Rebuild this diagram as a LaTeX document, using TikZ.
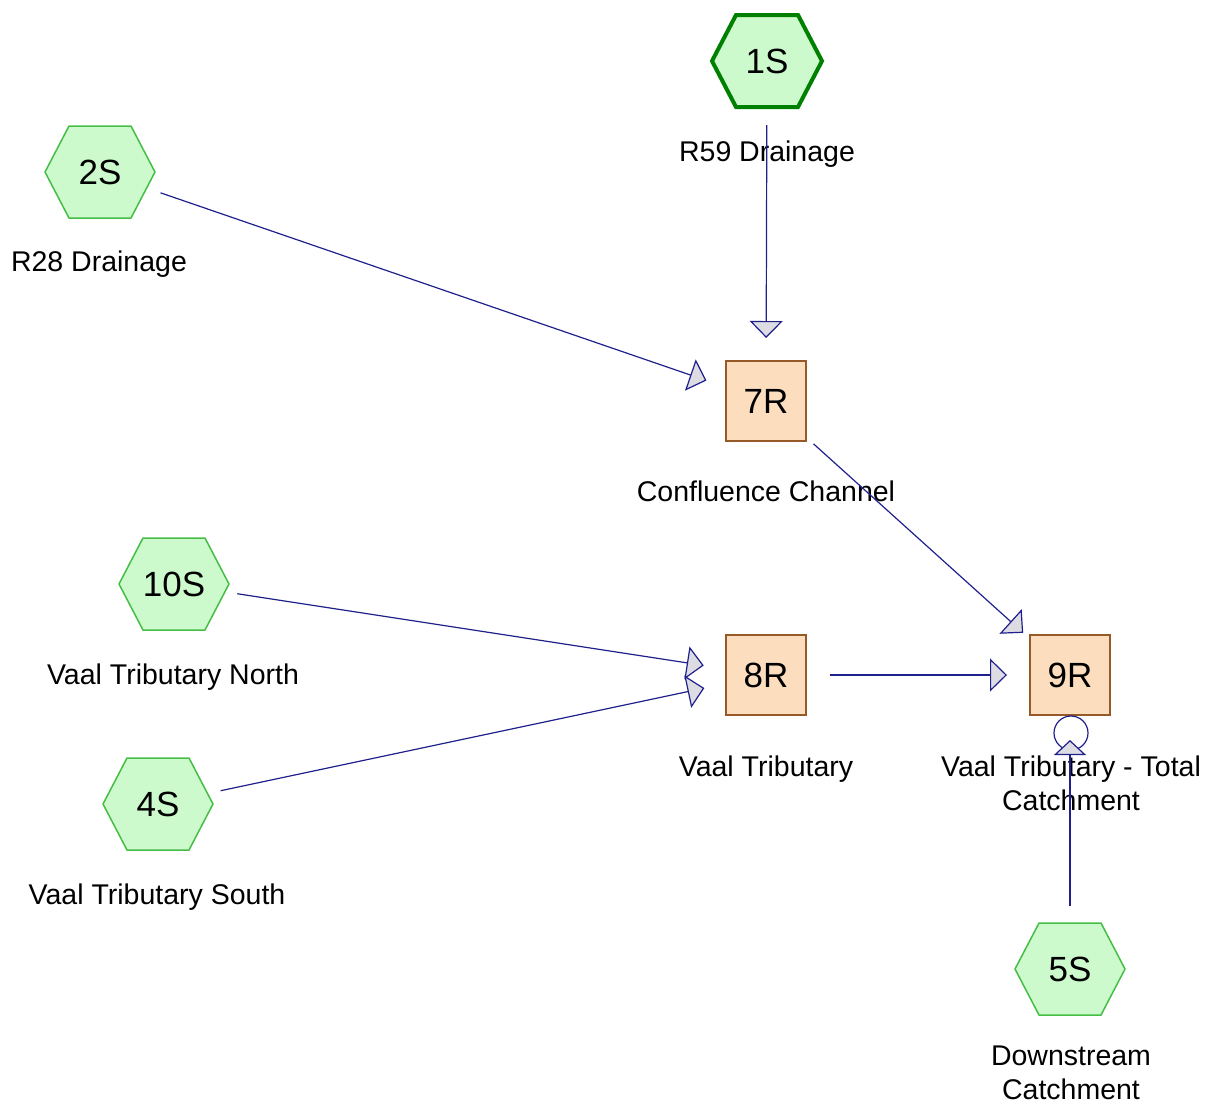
\documentclass[tikz,border=0pt]{standalone}
\usepackage{fontspec}
\setmainfont{Liberation Sans}
\usetikzlibrary{arrows.meta,backgrounds,calc}
\definecolor{hexfill}{RGB}{204,250,204}
\definecolor{hexborder}{RGB}{70,190,70}
\definecolor{hexstrong}{RGB}{0,128,0}
\definecolor{sqfill}{RGB}{252,222,190}
\definecolor{sqborder}{RGB}{150,90,40}
\definecolor{linecol}{RGB}{32,32,140}
\definecolor{arrowfill}{RGB}{220,220,226}
\begin{document}
\begin{tikzpicture}[x=1pt,y=-1pt,
  hexnode/.style={inner sep=0pt, minimum size=60pt, font=\fontsize{35}{40}\selectfont},
  hexshape/.style={fill=hexfill, draw=hexborder, line width=1.5pt, line join=miter},
  hexstrongshape/.style={fill=hexfill, draw=hexstrong, line width=4pt, line join=miter},
  reach/.style={draw=sqborder, fill=sqfill, line width=1.5pt, minimum size=80pt, inner sep=0pt, font=\fontsize{35}{40}\selectfont},
  lbl/.style={anchor=base, font=\fontsize{28.5}{34}\selectfont, align=center, inner sep=0pt},
  flow/.style={draw=linecol, line width=1.2pt, shorten <=64pt, shorten >=63pt,
    -{Triangle[length=17pt,width=33pt,fill=arrowfill]}},
]
\useasboundingbox (0,0) rectangle (1216,1104);
\newcommand\hexpath[1]{($(#1)+(-55,0)$) -- ($(#1)+(-31,-46)$) -- ($(#1)+(31,-46)$) -- ($(#1)+(55,0)$) -- ($(#1)+(31,46)$) -- ($(#1)+(-31,46)$) -- cycle}

% subcatchments
\node[hexnode] (s1) at (767,61) {1S};
\node[hexnode] (s2) at (100,172) {2S};
\node[hexnode] (s10) at (174,584) {10S};
\node[hexnode] (s4) at (158,804) {4S};
\node[hexnode] (s5) at (1070,969) {5S};
\begin{pgfonlayer}{background}
  \draw[hexstrongshape] \hexpath{s1};
  \draw[hexshape] \hexpath{s2};
  \draw[hexshape] \hexpath{s10};
  \draw[hexshape] \hexpath{s4};
  \draw[hexshape] \hexpath{s5};
\end{pgfonlayer}

% reaches
\node[reach] (r7) at (766,401) {7R};
\node[reach] (r8) at (766,675) {8R};
\node[reach] (r9) at (1070,675) {9R};

% labels
\node[lbl] (l1) at (767,161) {R59 Drainage};
\node[lbl] (l2) at (99,271) {R28 Drainage};
\node[lbl] (l7) at (766,501) {Confluence Channel};
\node[lbl] (l10) at (173,684) {Vaal Tributary North};
\node[lbl] (l4) at (157,904) {Vaal Tributary South};
\node[lbl] (l8) at (766,776) {Vaal Tributary};
\node[lbl] (l9) at (1071,810) {Vaal Tributary - Total\\Catchment};
\node[lbl] (l5) at (1071,1099) {Downstream\\Catchment};

% connectors
\draw[flow] (s1.center) -- (r7.center);
\draw[flow] (s2.center) -- (r7.center);
\draw[flow] (r7.center) -- (r9.center);
\draw[flow] (s10.center) -- (r8.center);
\draw[flow] (s4.center) -- (r8.center);
\draw[flow] (r8.center) -- (r9.center);
\node[draw=linecol, line width=1.2pt, circle, minimum size=34pt, inner sep=0pt] (ring) at ($(r9.center)+(1,58)$) {};
\draw[draw=linecol, line width=1.2pt, shorten <=63pt, shorten >=65pt,
  -{Triangle[length=15pt,width=32pt,fill=arrowfill]}] (s5.center) -- (r9.center);
\end{tikzpicture}
\end{document}
